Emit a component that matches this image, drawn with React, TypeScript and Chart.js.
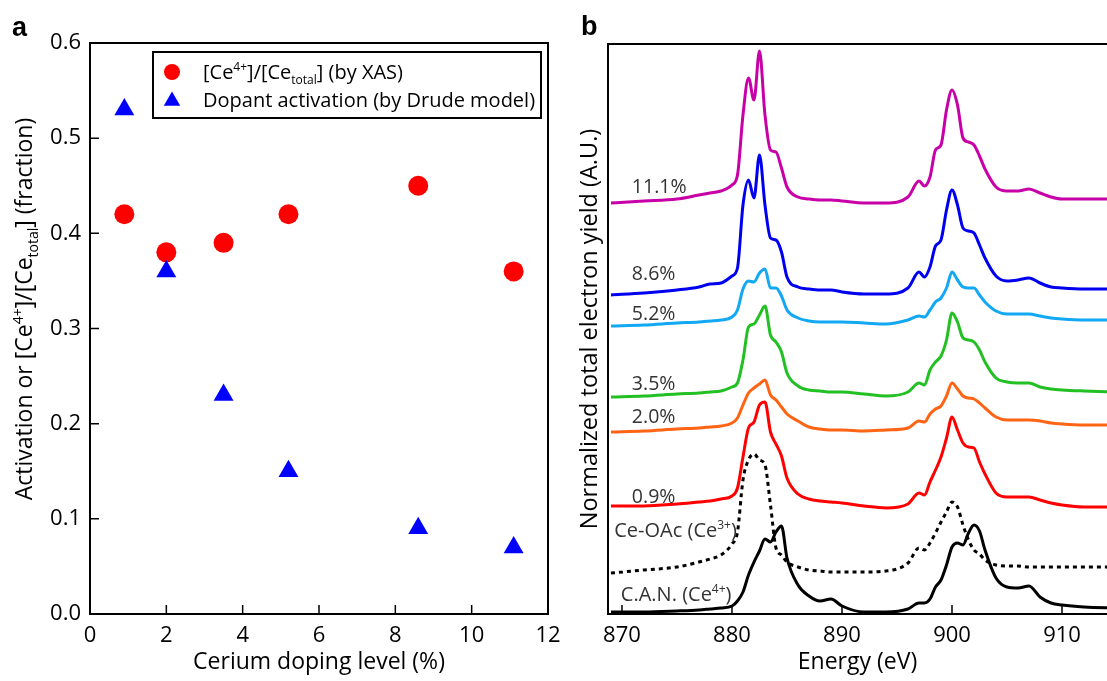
import React, { useEffect, useRef } from "react";
import { Chart, registerables } from "chart.js";

Chart.register(...registerables);

const FONT = "'Open Sans', 'DejaVu Sans', sans-serif";

// ---------- Panel a data ----------
const dopingLevel = [0.9, 2.0, 3.5, 5.2, 8.6, 11.1];
const ce4Ratio = [0.42, 0.38, 0.39, 0.42, 0.45, 0.36];
const dopantActivation = [0.53, 0.36, 0.23, 0.15, 0.09, 0.07];
const legendNames = ["ce4", "drude"];

// ---------- Panel b data ----------
const energyEv = [869, 872, 875, 877, 878, 879, 880, 880.5, 881, 881.5, 882, 882.5, 883, 883.5, 884, 884.5, 885, 886, 887, 888, 889, 890, 892, 894, 896, 897, 897.5, 898, 898.5, 899, 899.5, 900, 900.5, 901, 901.5, 902, 902.5, 903, 904, 905, 906, 907, 908, 909, 910, 912, 915];
const tey111 = [411, 413, 415, 419, 421, 423, 429, 439, 499, 536, 514, 563, 499, 464, 462, 446, 427, 417, 415, 414, 414, 413, 411, 411, 417, 433, 428, 437, 464, 469, 504, 524, 509, 476, 472, 469, 458, 445, 427, 423, 423, 425, 421, 417, 415, 415, 415];
const tey86 = [319, 321, 324, 327, 330, 331, 338, 346, 409, 434, 416, 459, 409, 376, 374, 362, 337, 327, 325, 324, 324, 322, 320, 320, 326, 342, 337, 347, 368, 374, 404, 424, 409, 386, 383, 381, 369, 356, 338, 333, 334, 336, 331, 327, 326, 325, 325];
const tey52 = [288, 289, 291, 292, 293, 294, 297, 304, 325, 333, 332, 341, 345, 326, 326, 318, 304, 296, 293, 292, 292, 292, 291, 290, 294, 298, 297, 304, 312, 316, 326, 342, 334, 327, 326, 326, 319, 312, 303, 300, 300, 300, 298, 296, 295, 294, 294];
const tey35 = [217, 218, 220, 221, 222, 223, 227, 231, 254, 287, 290, 299, 308, 279, 272, 262, 241, 228, 224, 223, 222, 222, 220, 218, 222, 231, 229, 244, 252, 258, 274, 301, 292, 276, 274, 272, 264, 252, 236, 232, 231, 231, 227, 225, 224, 223, 222];
const tey20 = [182, 183, 185, 186, 187, 188, 191, 196, 209, 221, 226, 230, 234, 219, 214, 207, 200, 193, 187, 185, 184, 184, 183, 184, 186, 193, 192, 200, 205, 208, 218, 231, 225, 218, 216, 215, 211, 206, 197, 194, 194, 194, 193, 191, 190, 189, 189];
const tey09 = [108, 108, 110, 112, 113, 115, 118, 126, 157, 186, 192, 209, 212, 182, 170, 158, 136, 120, 115, 113, 112, 111, 108, 106, 110, 121, 119, 132, 144, 157, 176, 197, 184, 171, 167, 166, 152, 140, 121, 117, 117, 117, 114, 111, 109, 107, 107];
const teyCeOAc = [41, 44, 47, 52, 55, 59, 70, 82, 134, 154, 160, 154, 149, 109, 66, 59, 52, 47, 44, 43, 42, 42, 42, 43, 51, 66, 64, 71, 81, 92, 102, 112, 107, 89, 74, 64, 60, 54, 49, 48, 48, 47, 47, 47, 47, 47, 47];
const teyCAN = [2, 2, 3, 4, 5, 6, 8, 13, 22, 39, 52, 63, 75, 72, 82, 88, 56, 29, 18, 13, 15, 8, 2, 2, 5, 11, 11, 15, 27, 34, 49, 67, 71, 69, 81, 89, 83, 64, 36, 27, 26, 28, 17, 11, 9, 7, 6];

const spectraSeries = [tey111, tey86, tey52, tey35, tey20, tey09, teyCeOAc, teyCAN];
const spectraColors = ["#c800a8", "#0000f0", "#12a8f4", "#22c022", "#ff6414", "#ff0000", "#000000", "#000000"];
const spectraLabels = ["11.1%", "8.6%", "5.2%", "3.5%", "2.0%", "0.9%"];
const spectraLabelEnergy = [870.9, 870.9, 870.9, 870.9, 870.9, 870.9];
const spectraLabelLevel = [421, 334, 294, 224, 191, 111];
const refLabelEnergy = [869.3, 869.9];
const refLabelLevel = [77, 13];

type Seg = { t: string; k?: "sup" | "sub" };
const titleA: Seg[] = [{ t: "Activation or [Ce" }, { t: "4+", k: "sup" }, { t: "]/[Ce" }, { t: "total", k: "sub" }, { t: "] (fraction)" }];
const legendText1: Seg[] = [{ t: "[Ce" }, { t: "4+", k: "sup" }, { t: "]/[Ce" }, { t: "total", k: "sub" }, { t: "] (by XAS)" }];
const legendText2: Seg[] = [{ t: "Dopant activation (by Drude model)" }];
const ceOAcLabel: Seg[] = [{ t: "Ce-OAc (Ce" }, { t: "3+", k: "sup" }, { t: ")" }];
const canLabel: Seg[] = [{ t: "C.A.N. (Ce" }, { t: "4+", k: "sup" }, { t: ")" }];

function drawRich(ctx: CanvasRenderingContext2D, segs: Seg[], x: number, y: number, size: number, color: string, align: "left" | "center") {
  const small = Math.round(size * 0.6);
  const fontOf = (k?: string) => `${k ? small : size}px ${FONT}`;
  ctx.textAlign = "left";
  ctx.textBaseline = "alphabetic";
  ctx.fillStyle = color;
  let total = 0;
  for (const s of segs) {
    ctx.font = fontOf(s.k);
    total += ctx.measureText(s.t).width;
  }
  let cx = align === "center" ? x - total / 2 : x;
  for (const s of segs) {
    ctx.font = fontOf(s.k);
    const dy = s.k === "sup" ? -size * 0.4 : s.k === "sub" ? size * 0.25 : 0;
    ctx.fillText(s.t, cx, y + dy);
    cx += ctx.measureText(s.t).width;
  }
}

function inwardTicks(ctx: CanvasRenderingContext2D, chart: any, sides: string[]) {
  const { left, bottom } = chart.chartArea;
  ctx.strokeStyle = "#000";
  ctx.lineWidth = 1.5;
  ctx.beginPath();
  if (sides.includes("x")) {
    const sx = chart.scales.x;
    for (const t of sx.ticks) {
      const px = sx.getPixelForValue(t.value);
      ctx.moveTo(px, bottom);
      ctx.lineTo(px, bottom - 9);
    }
  }
  if (sides.includes("y")) {
    const sy = chart.scales.y;
    for (const t of sy.ticks) {
      const py = sy.getPixelForValue(t.value);
      ctx.moveTo(left, py);
      ctx.lineTo(left + 9, py);
    }
  }
  ctx.stroke();
}

const panelAPlugin = {
  id: "panelA",
  afterDraw(chart: any) {
    const ctx: CanvasRenderingContext2D = chart.ctx;
    const { left, right, top, bottom } = chart.chartArea;
    ctx.save();
    ctx.strokeStyle = "#000";
    ctx.lineWidth = 2;
    ctx.strokeRect(left, top, right - left, bottom - top);
    inwardTicks(ctx, chart, ["x", "y"]);
    // legend
    ctx.lineWidth = 2;
    ctx.strokeRect(153, 52, 388, 66);
    ctx.fillStyle = "#ff0000";
    ctx.beginPath();
    ctx.arc(172, 72, 8, 0, Math.PI * 2);
    ctx.fill();
    ctx.fillStyle = "#0000ff";
    ctx.beginPath();
    const r = 9.5;
    const cy = 101;
    ctx.moveTo(172, cy - r);
    ctx.lineTo(172 + r * 0.866, cy + r / 2);
    ctx.lineTo(172 - r * 0.866, cy + r / 2);
    ctx.closePath();
    ctx.fill();
    drawRich(ctx, legendText1, 203, 79, 20, "#000", "left");
    drawRich(ctx, legendText2, 203, 107, 20, "#000", "left");
    // y title
    ctx.save();
    ctx.translate(32, 309);
    ctx.rotate(-Math.PI / 2);
    drawRich(ctx, titleA, 0, 0, 23, "#000", "center");
    ctx.restore();
    ctx.fillStyle = "#000";
    ctx.font = `bold 27px 'Liberation Sans', Arial, sans-serif`;
    ctx.textAlign = "left";
    ctx.textBaseline = "alphabetic";
    ctx.fillText("a", 12, 36);
    ctx.restore();
  },
};

const panelBPlugin = {
  id: "panelB",
  afterDraw(chart: any) {
    const ctx: CanvasRenderingContext2D = chart.ctx;
    const { left, right, top, bottom } = chart.chartArea;
    const sx = chart.scales.x;
    const sy = chart.scales.y;
    ctx.save();
    ctx.strokeStyle = "#000";
    ctx.lineWidth = 2;
    ctx.beginPath();
    ctx.moveTo(right + 2, top);
    ctx.lineTo(left, top);
    ctx.lineTo(left, bottom);
    ctx.lineTo(right + 2, bottom);
    ctx.stroke();
    inwardTicks(ctx, chart, ["x"]);
    for (let i = 0; i < spectraLabels.length; i++) {
      drawRich(ctx, [{ t: spectraLabels[i] }], sx.getPixelForValue(spectraLabelEnergy[i]), sy.getPixelForValue(spectraLabelLevel[i]), 19.5, "#333", "left");
    }
    drawRich(ctx, ceOAcLabel, sx.getPixelForValue(refLabelEnergy[0]), sy.getPixelForValue(refLabelLevel[0]), 20, "#333", "left");
    drawRich(ctx, canLabel, sx.getPixelForValue(refLabelEnergy[1]), sy.getPixelForValue(refLabelLevel[1]), 20, "#333", "left");
    ctx.fillStyle = "#000";
    ctx.font = `bold 27px 'Liberation Sans', Arial, sans-serif`;
    ctx.textAlign = "left";
    ctx.textBaseline = "alphabetic";
    ctx.fillText("b", 21, 35);
    ctx.restore();
  },
};

export default function App() {
  const refA = useRef<HTMLCanvasElement>(null);
  const refB = useRef<HTMLCanvasElement>(null);

  useEffect(() => {
    const tickFont = { size: 22, family: FONT };
    const chartA = new Chart(refA.current!, {
      type: "scatter",
      data: {
        datasets: [
          {
            label: legendNames[0],
            data: dopingLevel.map((x, i) => ({ x, y: ce4Ratio[i] })),
            pointStyle: "circle",
            pointRadius: 10,
            backgroundColor: "#ff0000",
            borderColor: "#ff0000",
            borderWidth: 0,
            order: 1,
          },
          {
            label: legendNames[1],
            data: dopingLevel.map((x, i) => ({ x, y: dopantActivation[i] })),
            pointStyle: "triangle",
            pointRadius: 11.5,
            backgroundColor: "#0000ff",
            borderColor: "#0000ff",
            borderWidth: 0,
            order: 0,
          },
        ],
      },
      options: {
        animation: false,
        responsive: false,
        events: [],
        layout: { padding: { top: 43, right: 12, left: 0, bottom: 0 } },
        plugins: { legend: { display: false }, tooltip: { enabled: false } },
        scales: {
          x: {
            type: "linear",
            min: 0,
            max: 12,
            grid: { display: false, drawTicks: false },
            border: { display: false },
            ticks: { stepSize: 2, padding: 9, font: tickFont, color: "#000", maxRotation: 0 },
            title: { display: true, text: "Cerium doping level (%)", font: { size: 23, family: FONT }, color: "#000", padding: { top: 0, bottom: 5 } },
            afterFit: (s: any) => { s.height = 67; s.paddingLeft = 0; s.paddingRight = 0; },
          },
          y: {
            type: "linear",
            min: 0,
            max: 0.6,
            grid: { display: false, drawTicks: false },
            border: { display: false },
            ticks: { stepSize: 0.1, padding: 9, font: tickFont, color: "#000", callback: (v: any) => Number(v).toFixed(1) },
            afterFit: (s: any) => { s.width = 90; s.paddingTop = 0; s.paddingBottom = 0; },
          },
        },
      } as any,
      plugins: [panelAPlugin],
    });

    const chartB = new Chart(refB.current!, {
      type: "line",
      data: {
        datasets: spectraSeries.map((vals, i) => ({
          label: i < spectraLabels.length ? spectraLabels[i] : i === 6 ? "Ce-OAc" : "C.A.N.",
          data: energyEv.map((x, j) => ({ x, y: vals[j] })),
          borderColor: spectraColors[i],
          borderWidth: 3,
          borderDash: i === 6 ? [4, 4] : [],
          pointRadius: 0,
          fill: false,
          cubicInterpolationMode: "monotone",
        })),
      },
      options: {
        animation: false,
        responsive: false,
        events: [],
        layout: { padding: { top: 44, right: 0, left: 0, bottom: 0 } },
        plugins: { legend: { display: false }, tooltip: { enabled: false } },
        scales: {
          x: {
            type: "linear",
            min: 868.73,
            max: 914.09,
            grid: { display: false, drawTicks: false },
            border: { display: false },
            ticks: { stepSize: 10, includeBounds: false, padding: 9, font: tickFont, color: "#000", maxRotation: 0, callback: (v: any) => String(v) },
            title: { display: true, text: "Energy (eV)", font: { size: 23, family: FONT }, color: "#000", padding: { top: 0, bottom: 5 } },
            afterFit: (s: any) => { s.height = 67; s.paddingLeft = 0; s.paddingRight = 0; },
          },
          y: {
            type: "linear",
            min: 0,
            max: 570,
            grid: { display: false, drawTicks: false },
            border: { display: false },
            ticks: { display: false },
            title: { display: true, text: "Normalized total electron yield (A.U.)", font: { size: 23.5, family: FONT }, color: "#000", padding: { top: 16, bottom: 0 } },
            afterFit: (s: any) => { s.width = 48; },
          },
        },
      } as any,
      plugins: [panelBPlugin],
    });

    return () => {
      chartA.destroy();
      chartB.destroy();
    };
  }, []);

  return (
    <div style={{ position: "absolute", left: 0, top: 0, width: 1107, height: 681, background: "#fff", overflow: "hidden" }}>
      <canvas ref={refA} width={560} height={681} style={{ position: "absolute", left: 0, top: 0, width: 560, height: 681 }} />
      <canvas ref={refB} width={547} height={681} style={{ position: "absolute", left: 560, top: 0, width: 547, height: 681 }} />
    </div>
  );
}
